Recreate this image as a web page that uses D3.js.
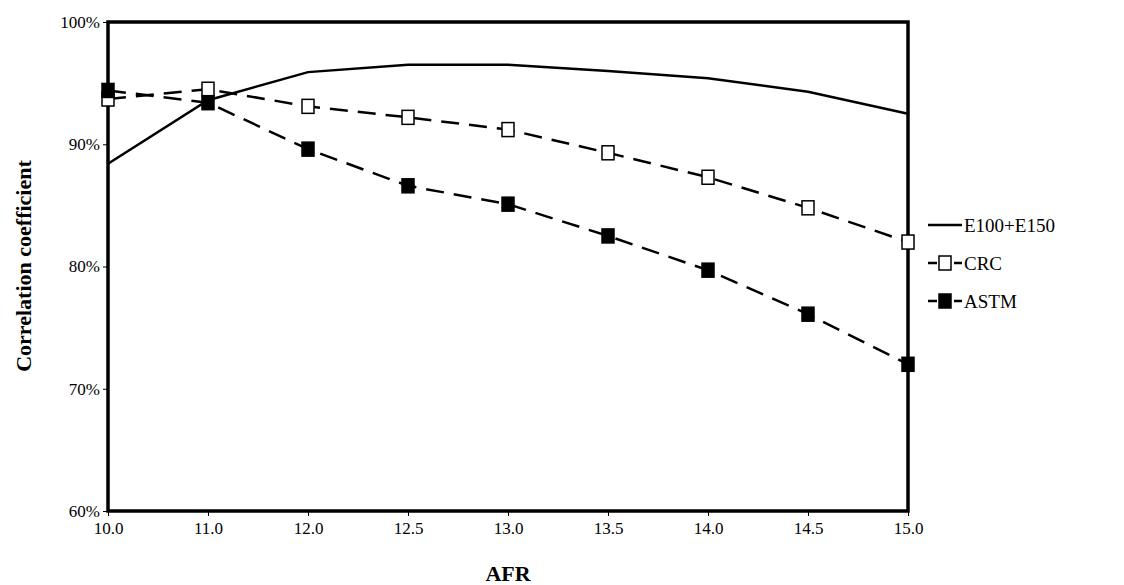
<!DOCTYPE html>
<html><head><meta charset="utf-8">
<script src="https://cdn.jsdelivr.net/npm/d3@7"></script>
<style>body{margin:0;background:#fff}svg{font-family:"Liberation Serif","Times New Roman",serif}</style>
</head><body><div id="container"></div>
<script>
// categorias AFR (eje equiespaciado)
const afr = ["10.0","11.0","12.0","12.5","13.0","13.5","14.0","14.5","15.0"]
const e100 = [88.4, 93.6, 95.9, 96.5, 96.5, 96.0, 95.4, 94.3, 92.5]
const crc = [93.7, 94.5, 93.1, 92.2, 91.2, 89.3, 87.3, 84.8, 82.0]
const astm = [94.4, 93.4, 89.6, 86.6, 85.1, 82.5, 79.7, 76.1, 72.0]
const yTicks = [60, 70, 80, 90, 100]

const svg = d3.select("#container").append("svg").attr("width", 1124).attr("height", 585)
const x = d3.scalePoint().domain(afr).range([108, 908])
const y = d3.scaleLinear().domain([60, 100]).range([511, 22])

svg.append("g").attr("transform", "translate(108,0)")
  .call(d3.axisLeft(y).tickValues(yTicks).tickFormat(d => d + "%").tickSize(5).tickSizeOuter(0))
  .call(g => g.select(".domain").remove())
  .selectAll("text").attr("font-size", 17).attr("font-family", "Liberation Serif").attr("fill", "#000")
svg.append("g").attr("transform", "translate(0,511)")
  .call(d3.axisBottom(x).tickSize(5).tickSizeOuter(0))
  .call(g => g.select(".domain").remove())
  .selectAll("text").attr("font-size", 17).attr("font-family", "Liberation Serif").attr("fill", "#000").attr("dy", "0.9em")

svg.append("rect").attr("x", 108).attr("y", 22).attr("width", 800).attr("height", 489)
  .attr("fill", "none").attr("stroke", "#000").attr("stroke-width", 3.5)

const line = d3.line().x((d, i) => x(afr[i])).y(d => y(d))
const series = [
  {name: "E100+E150", vals: e100, dash: null, mark: null},
  {name: "CRC", vals: crc, dash: "18,10", mark: "#fff"},
  {name: "ASTM", vals: astm, dash: "18,10", mark: "#000"}
]
series.forEach((s, k) => {
  svg.append("path").attr("d", line(s.vals)).attr("fill", "none").attr("stroke", "#000")
    .attr("stroke-width", 2.5).attr("stroke-dasharray", s.dash)
  if (s.mark) svg.selectAll(null).data(s.vals).enter().append("rect")
    .attr("x", (d, i) => x(afr[i]) - 6).attr("y", d => y(d) - 7).attr("width", 12).attr("height", 14)
    .attr("fill", s.mark).attr("stroke", "#000").attr("stroke-width", 1.5)
  const ly = 225 + k * 38
  svg.append("line").attr("x1", 928).attr("x2", 962).attr("y1", ly).attr("y2", ly)
    .attr("stroke", "#000").attr("stroke-width", 2.5).attr("stroke-dasharray", s.dash ? "9,4" : null)
  if (s.mark) svg.append("rect").attr("x", 939).attr("y", ly - 7).attr("width", 12).attr("height", 14)
    .attr("fill", s.mark).attr("stroke", "#000").attr("stroke-width", 1.5)
  svg.append("text").attr("x", 964).attr("y", ly + 7).attr("font-size", 19).text(s.name)
})

svg.append("text").attr("x", 508).attr("y", 581).attr("text-anchor", "middle")
  .attr("font-size", 22).attr("font-weight", "bold").text("AFR")
svg.append("text").attr("transform", "translate(31,266) rotate(-90)").attr("text-anchor", "middle")
  .attr("font-size", 22).attr("font-weight", "bold").text("Correlation coefficient")
</script></body></html>
